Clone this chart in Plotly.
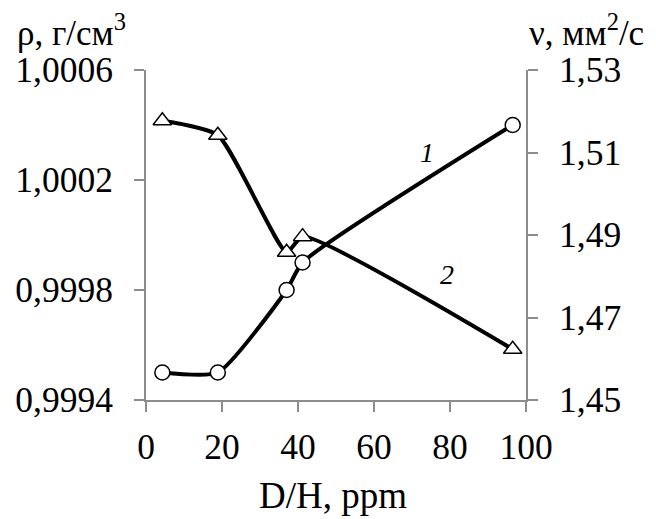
import plotly.graph_objects as go

# Data
dh_rho = [4.3, 18.9, 37.0, 41.2, 96.5]
rho = [0.99950, 0.99950, 0.99980, 0.99990, 1.00040]

dh_nu = [4.3, 18.9, 37.0, 41.2, 96.5]
nu = [1.5177, 1.5142, 1.4858, 1.4896, 1.4623]

x_ticks = [0, 20, 40, 60, 80, 100]
rho_ticks = [0.9994, 0.9998, 1.0002, 1.0006]
nu_ticks = [1.45, 1.47, 1.49, 1.51, 1.53]

FONT = "Liberation Serif"
AX = "#8c8c8c"

fig = go.Figure()
fig.add_trace(go.Scatter(
    x=dh_rho, y=rho, mode="lines+markers", yaxis="y",
    line=dict(color="black", width=4, shape="spline", smoothing=0.55),
    marker=dict(symbol="circle", size=15, color="white",
                line=dict(color="black", width=1.5)),
    showlegend=False, cliponaxis=False))
fig.add_trace(go.Scatter(
    x=dh_nu, y=nu, mode="lines+markers", yaxis="y2",
    line=dict(color="black", width=4, shape="spline", smoothing=0.55),
    marker=dict(symbol="triangle-up", size=16, color="white",
                line=dict(color="black", width=1.5)),
    showlegend=False, cliponaxis=False))

axis_common = dict(showline=True, linecolor=AX, linewidth=2, ticks="outside",
                   ticklen=10, tickwidth=2, tickcolor=AX, showgrid=False,
                   zeroline=False, automargin=False,
                   tickfont=dict(family=FONT, size=35.5, color="black"))

# page body has an 8px margin, so the figure is 8px smaller and margins shifted
fig.update_layout(
    template="none",
    width=648, height=511,
    margin=dict(l=138, r=130, t=62, b=119),
    paper_bgcolor="white", plot_bgcolor="white",
    separators=", ",
    xaxis=dict(range=[0, 100], tickvals=x_ticks, ticklabelstandoff=4, **axis_common),
    yaxis=dict(range=[0.9994, 1.0006], tickvals=rho_ticks, tickformat=".4f",
               ticklabelstandoff=14, **axis_common),
    yaxis2=dict(range=[1.45, 1.53], tickvals=nu_ticks, tickformat=".2f",
                overlaying="y", side="right", ticklabelstandoff=14, **axis_common),
    font=dict(family=FONT, color="black"),
    annotations=[
        dict(text="ρ, г/см<sup>3</sup>", xref="paper", yref="paper",
             x=(15 - 146) / 380, y=(400 - 30) / 330, xanchor="left", yanchor="middle",
             showarrow=False, font=dict(family=FONT, size=35)),
        dict(text="ν, мм<sup>2</sup>/с", xref="paper", yref="paper",
             x=(527 - 146) / 380, y=(400 - 30) / 330, xanchor="left", yanchor="middle",
             showarrow=False, font=dict(family=FONT, size=35)),
        dict(text="D/H, ppm", xref="paper", yref="paper",
             x=(333 - 146) / 380, y=(400 - 495) / 330, xanchor="center", yanchor="middle",
             showarrow=False, font=dict(family=FONT, size=37)),
        dict(text="<i>1</i>", xref="paper", yref="paper",
             x=(427 - 146) / 380, y=(400 - 152) / 330, xanchor="center", yanchor="middle",
             showarrow=False, font=dict(family=FONT, size=28)),
        dict(text="<i>2</i>", xref="paper", yref="paper",
             x=(447 - 146) / 380, y=(400 - 274) / 330, xanchor="center", yanchor="middle",
             showarrow=False, font=dict(family=FONT, size=28)),
    ],
)

fig.write_html("out.html")
